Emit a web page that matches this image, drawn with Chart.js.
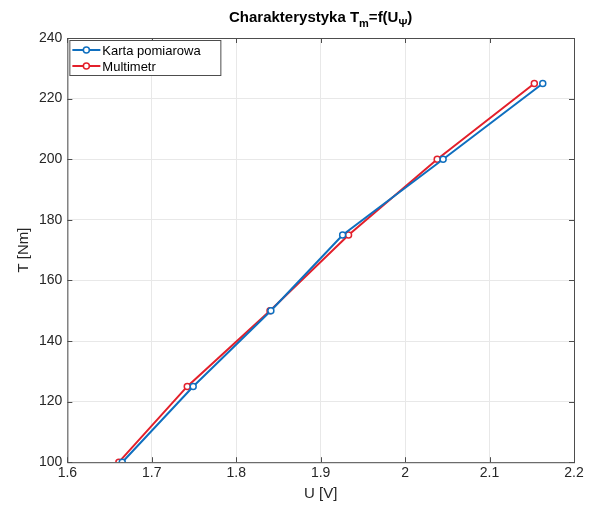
<!DOCTYPE html>
<html>
<head>
<meta charset="utf-8">
<script src="https://cdn.jsdelivr.net/npm/chart.js@4"></script>
<style>
  html, body { margin: 0; padding: 0; background: #fff; }
  #wrap { width: 597px; height: 506px; }
</style>
</head>
<body>
<div id="wrap"><canvas id="c"></canvas></div>
<script>
// data
const torque = [100, 125, 150, 175, 200, 225];
const uKarta = [1.665, 1.749, 1.841, 1.926, 2.045, 2.163];
const uMulti = [1.661, 1.742, 1.840, 1.933, 2.038, 2.153];
const xTicks = [1.6, 1.7, 1.8, 1.9, 2.0, 2.1, 2.2];
const yTicks = [100, 120, 140, 160, 180, 200, 220, 240];

const FONT = '"Liberation Sans", Arial, sans-serif';
const BLUE = '#0f6fbf';
const RED = '#e3202b';

// MATLAB style box, inward ticks, legend inside and title with subscripts
const matlabBox = {
  id: 'matlabBox',
  afterDraw(chart) {
    const { ctx, chartArea: a, scales } = chart;
    ctx.save();
    ctx.strokeStyle = '#4d4d4d';
    ctx.lineWidth = 1;
    ctx.strokeRect(a.left + 0.5, a.top + 0.5, a.right - a.left, a.bottom - a.top);
    ctx.beginPath();
    xTicks.forEach(v => {
      const x = Math.round(scales.x.getPixelForValue(v)) + 0.5;
      ctx.moveTo(x, a.bottom); ctx.lineTo(x, a.bottom - 5);
      ctx.moveTo(x, a.top); ctx.lineTo(x, a.top + 5);
    });
    yTicks.forEach(v => {
      const y = Math.round(scales.y.getPixelForValue(v)) + 0.5;
      ctx.moveTo(a.left, y); ctx.lineTo(a.left + 5, y);
      ctx.moveTo(a.right, y); ctx.lineTo(a.right - 5, y);
    });
    ctx.stroke();

    // legend
    const lx = a.left + 2, ly = a.top + 2, lw = 151, lh = 35;
    ctx.fillStyle = '#fff';
    ctx.fillRect(lx, ly, lw, lh);
    ctx.strokeStyle = '#4d4d4d';
    ctx.strokeRect(lx + 0.5, ly + 0.5, lw, lh);
    ctx.font = '13px ' + FONT;
    ctx.textBaseline = 'middle';
    chart.data.datasets.forEach((ds, i) => {
      const y = ly + 10 + i * 16;
      ctx.strokeStyle = ds.borderColor;
      ctx.lineWidth = 2;
      ctx.beginPath(); ctx.moveTo(lx + 3, y); ctx.lineTo(lx + 31, y); ctx.stroke();
      ctx.beginPath(); ctx.arc(lx + 17, y, 3, 0, Math.PI * 2);
      ctx.fillStyle = '#fff'; ctx.fill(); ctx.lineWidth = 1.5; ctx.stroke();
      ctx.fillStyle = '#000';
      ctx.fillText(ds.label, lx + 33, y + 1);
    });

    // title: Charakterystyka T_m=f(U_Ψ)
    const parts = [
      ['Charakterystyka T', 0], ['m', 1], ['=f(U', 0], ['Ψ', 1], [')', 0]
    ];
    const big = 'bold 15px ' + FONT, small = 'bold 11px ' + FONT;
    let total = 0;
    parts.forEach(p => { ctx.font = p[1] ? small : big; total += ctx.measureText(p[0]).width; });
    let x = (a.left + a.right) / 2 - total / 2;
    ctx.fillStyle = '#000';
    ctx.textBaseline = 'alphabetic';
    parts.forEach(p => {
      ctx.font = p[1] ? small : big;
      ctx.fillText(p[0], x, p[1] ? 27 : 22);
      x += ctx.measureText(p[0]).width;
    });
    ctx.restore();
  }
};

new Chart(document.getElementById('c'), {
  type: 'line',
  data: {
    datasets: [
      {
        label: 'Karta pomiarowa',
        data: uKarta.map((u, i) => ({ x: u, y: torque[i] })),
        borderColor: BLUE,
        backgroundColor: '#fff',
        borderWidth: 2,
        pointRadius: 3,
        pointBorderWidth: 1.5,
        tension: 0
      },
      {
        label: 'Multimetr',
        data: uMulti.map((u, i) => ({ x: u, y: torque[i] })),
        borderColor: RED,
        backgroundColor: '#fff',
        borderWidth: 2,
        pointRadius: 3,
        pointBorderWidth: 1.5,
        tension: 0
      }
    ]
  },
  options: {
    responsive: true,
    maintainAspectRatio: false,
    animation: false,
    layout: { padding: { top: 38, right: 23, left: 15, bottom: 3 } },
    plugins: { legend: { display: false }, title: { display: false }, tooltip: { enabled: false } },
    scales: {
      x: {
        type: 'linear', min: 1.6, max: 2.2,
        afterBuildTicks: s => { s.ticks = xTicks.map(v => ({ value: v })); },
        grid: { color: '#e8e8e8', drawTicks: false },
        border: { display: false },
        ticks: {
          color: '#262626', font: { family: FONT, size: 14 }, padding: 3,
          callback: v => String(+v.toFixed(1))
        },
        title: { display: true, text: 'U [V]', color: '#262626', font: { family: FONT, size: 15 }, padding: { top: 0, bottom: 0 } }
      },
      y: {
        type: 'linear', min: 100, max: 240,
        afterBuildTicks: s => { s.ticks = yTicks.map(v => ({ value: v })); },
        grid: { color: '#e8e8e8', drawTicks: false },
        border: { display: false },
        ticks: { color: '#262626', font: { family: FONT, size: 14 }, padding: 5 },
        title: { display: true, text: 'T [Nm]', color: '#262626', font: { family: FONT, size: 15 }, padding: { top: 0, bottom: 1 } }
      }
    }
  },
  plugins: [matlabBox]
});
</script>
</body>
</html>
